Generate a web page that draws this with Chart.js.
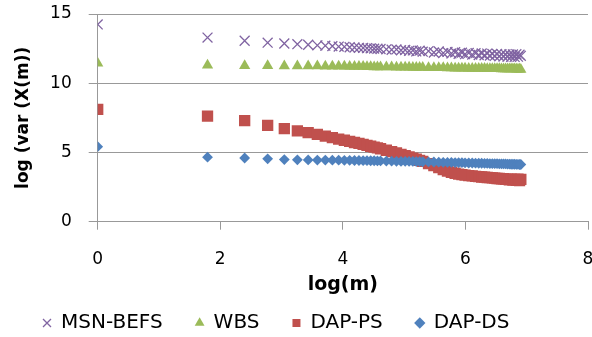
<!DOCTYPE html>
<html>
<head>
<meta charset="utf-8">
<title>log var X(m)</title>
<script src="https://cdn.jsdelivr.net/npm/chart.js@4.4.0/dist/chart.umd.min.js"></script>
<style>
    html, body { margin: 0; padding: 0; background: #fff; }
    #wrap { width: 592px; height: 337px; position: relative; }
</style>
</head>
<body>
<div id="wrap"><canvas id="chart"></canvas></div>
<script>
// log(m) positions of the points
const logM = [
    0, 1.792, 2.398, 2.773, 3.045, 3.258, 3.434, 3.584, 3.714, 3.829,
    3.932, 4.025, 4.111, 4.190, 4.263, 4.331, 4.394, 4.454, 4.511, 4.564,
    4.615, 4.710, 4.796, 4.875, 4.949, 5.017, 5.081, 5.142, 5.198, 5.252,
    5.303, 5.398, 5.485, 5.565, 5.638, 5.707, 5.771, 5.832, 5.889, 5.943,
    5.994, 6.054, 6.111, 6.165, 6.217, 6.265, 6.312, 6.356, 6.399, 6.439,
    6.478, 6.516, 6.553, 6.588, 6.621, 6.654, 6.686, 6.717, 6.746, 6.775,
    6.803, 6.831, 6.857, 6.883, 6.904
];

const msnBefs = [
    14.25, 13.3, 13.07, 12.93, 12.87, 12.82, 12.78, 12.74, 12.71, 12.68,
    12.65, 12.63, 12.6, 12.58, 12.56, 12.55, 12.53, 12.52, 12.5, 12.49,
    12.47, 12.45, 12.42, 12.44, 12.38, 12.4, 12.34, 12.37, 12.3, 12.35,
    12.28, 12.32, 12.22, 12.29, 12.18, 12.26, 12.15, 12.24, 12.12, 12.21,
    12.1, 12.19, 12.07, 12.17, 12.04, 12.15, 12.02, 12.14, 12.0, 12.12,
    11.97, 12.11, 11.95, 12.1, 11.93, 12.09, 11.92, 12.08, 11.9, 12.08,
    11.9, 12.1, 11.92, 12.06, 11.98
];

const wbs = [
    11.44, 11.29, 11.27, 11.26, 11.25, 11.25, 11.24, 11.24, 11.23, 11.23,
    11.22, 11.22, 11.21, 11.21, 11.2, 11.2, 11.19, 11.19, 11.18, 11.18,
    11.18, 11.17, 11.17, 11.16, 11.16, 11.15, 11.15, 11.14, 11.14, 11.13,
    11.13, 11.12, 11.12, 11.11, 11.11, 11.1, 11.1, 11.09, 11.09, 11.08,
    11.08, 11.07, 11.07, 11.07, 11.06, 11.06, 11.06, 11.05, 11.05, 11.05,
    11.04, 11.04, 11.04, 11.03, 11.03, 11.03, 11.03, 11.02, 11.02, 11.02,
    11.02, 11.01, 11.01, 11.01, 11.0
];

const dapPs = [
    8.11, 7.63, 7.3, 6.95, 6.72, 6.56, 6.43, 6.3, 6.18, 6.07,
    5.97, 5.88, 5.8, 5.72, 5.65, 5.58, 5.51, 5.45, 5.39, 5.33,
    5.27, 5.16, 5.06, 4.96, 4.86, 4.77, 4.68, 4.59, 4.51, 4.43,
    4.35, 4.2, 4.05, 3.9, 3.77, 3.66, 3.57, 3.5, 3.44, 3.4,
    3.37, 3.33, 3.31, 3.28, 3.26, 3.23, 3.22, 3.19, 3.18, 3.16,
    3.15, 3.12, 3.12, 3.09, 3.1, 3.06, 3.08, 3.03, 3.07, 3.0,
    3.06, 2.98, 3.08, 2.97, 3.05
];

const dapDs = [
    5.42, 4.66, 4.6, 4.54, 4.49, 4.47, 4.46, 4.45, 4.45, 4.44,
    4.44, 4.43, 4.43, 4.42, 4.42, 4.41, 4.41, 4.4, 4.4, 4.39,
    4.39, 4.38, 4.37, 4.36, 4.35, 4.36, 4.35, 4.35, 4.34, 4.34,
    4.33, 4.32, 4.31, 4.3, 4.29, 4.28, 4.28, 4.27, 4.26, 4.26,
    4.25, 4.24, 4.24, 4.23, 4.22, 4.22, 4.21, 4.21, 4.2, 4.2,
    4.19, 4.19, 4.18, 4.18, 4.17, 4.17, 4.16, 4.16, 4.15, 4.15,
    4.15, 4.14, 4.14, 4.13, 4.13
];

const xTicks = [0, 2, 4, 6, 8];
const yTicks = [0, 5, 10, 15];

const toPoints = (ys) => logM.map((x, i) => ({ x: x, y: ys[i] }));

const font = 'DejaVu Sans';
const gridGray = '#999999';

new Chart(document.getElementById('chart'), {
    type: 'scatter',
    data: {
        datasets: [
            {
                label: 'MSN-BEFS',
                data: toPoints(msnBefs),
                pointStyle: 'crossRot',
                pointRadius: 7,
                borderColor: '#8064A2',
                backgroundColor: '#8064A2',
                borderWidth: 1.3,
                order: 3
            },
            {
                label: 'WBS',
                data: toPoints(wbs),
                pointStyle: 'triangle',
                pointRadius: 6.5,
                borderColor: '#9BBB59',
                backgroundColor: '#9BBB59',
                borderWidth: 0,
                order: 2
            },
            {
                label: 'DAP-PS',
                data: toPoints(dapPs),
                pointStyle: 'rect',
                pointRadius: 8,
                borderColor: '#C0504D',
                backgroundColor: '#C0504D',
                borderWidth: 0,
                order: 1
            },
            {
                label: 'DAP-DS',
                data: toPoints(dapDs),
                pointStyle: 'rectRot',
                pointRadius: 5.4,
                borderColor: '#4F81BD',
                backgroundColor: '#4F81BD',
                borderWidth: 0,
                order: 0
            }
        ]
    },
    options: {
        responsive: true,
        maintainAspectRatio: false,
        animation: false,
        layout: {
            autoPadding: false,
            padding: { left: 10, top: 14, right: 0, bottom: -6 }
        },
        plugins: {
            tooltip: { enabled: false },
            legend: {
                position: 'bottom',
                align: 'start',
                labels: {
                    usePointStyle: true,
                    boxWidth: 8,
                    boxHeight: 8,
                    padding: 33,
                    color: '#000',
                    font: { family: font, size: 20 },
                    sort: (a, b) => a.datasetIndex - b.datasetIndex
                }
            }
        },
        scales: {
            x: {
                type: 'linear',
                min: 0,
                max: 8,
                // fixed axis band so the plot area lands where the original has it
                afterFit: (scale) => {
                    scale.height = 58.3;
                    scale.paddingLeft = 0;
                    scale.paddingRight = 4;
                },
                afterBuildTicks: (scale) => { scale.ticks = xTicks.map(v => ({ value: v })); },
                grid: { drawOnChartArea: false, color: gridGray, lineWidth: 1, tickLength: 8 },
                border: { color: gridGray, width: 1 },
                ticks: { padding: 20, color: '#000', font: { family: font, size: 17 } },
                title: {
                    display: true,
                    text: 'log(m)',
                    color: '#000',
                    padding: { top: 0, bottom: -16 },
                    font: { family: font, size: 19, weight: 'bold' }
                }
            },
            y: {
                min: 0,
                max: 15,
                afterFit: (scale) => {
                    scale.width = 87.7;
                    scale.paddingTop = 0;
                    scale.paddingBottom = 0;
                },
                afterBuildTicks: (scale) => { scale.ticks = yTicks.map(v => ({ value: v })); },
                grid: { color: gridGray, lineWidth: 1, tickLength: 9 },
                border: { color: gridGray, width: 1 },
                ticks: { padding: 17, color: '#000', font: { family: font, size: 17 } },
                title: {
                    display: true,
                    text: 'log (var (X(m))',
                    color: '#000',
                    padding: { top: 3, bottom: 0 },
                    font: { family: font, size: 17, weight: 'bold' }
                }
            }
        }
    }
});
</script>
</body>
</html>
